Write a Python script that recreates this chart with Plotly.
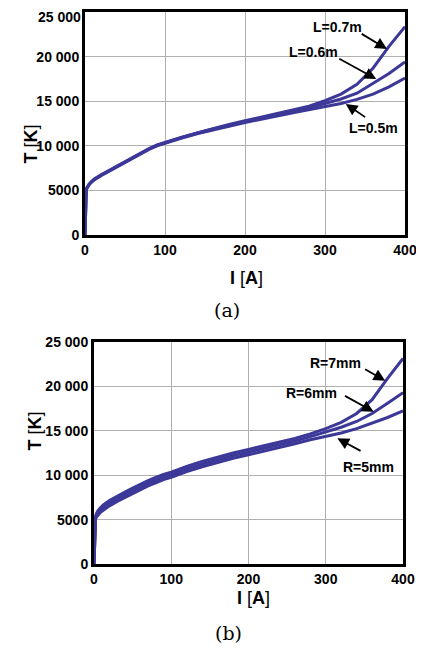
import plotly.graph_objects as go

# ---------------- data ----------------
current = [0, 0.5, 1, 1.5, 2, 3, 5, 8, 12, 20, 30, 40, 50, 60, 70, 80, 90, 100, 120, 140, 160,
           180, 200, 220, 240, 260, 280, 300, 320, 340, 360, 380, 400]

# (a) length variation
T_L05 = [0, 2450, 4250, 4900, 5150, 5350, 5600, 5900, 6200, 6650, 7150, 7650, 8100, 8600, 9150, 9600, 10000, 10300,
         10850, 11350, 11800, 12200, 12600, 13000, 13350, 13700, 14050, 14400, 14750, 15200, 15800, 16600, 17600]
T_L06 = [0, 2500, 4300, 4950, 5200, 5400, 5650, 5950, 6250, 6700, 7200, 7700, 8150, 8650, 9200, 9650, 10050, 10350,
         10900, 11400, 11900, 12300, 12700, 13100, 13450, 13850, 14300, 14750, 15250, 15900, 17000, 18100, 19400]
T_L07 = [0, 2550, 4350, 5000, 5250, 5450, 5700, 6000, 6300, 6750, 7250, 7750, 8200, 8700, 9250, 9700, 10100, 10400,
         10950, 11450, 11950, 12400, 12800, 13200, 13600, 14000, 14450, 15050, 15800, 16900, 18700, 21150, 23350]

# (b) radius variation
T_R5 = [0, 2400, 4150, 4750, 5050, 5250, 5500, 5800, 6050, 6550, 7050, 7500, 7950, 8400, 8800, 9150, 9500, 9750,
        10400, 10950, 11450, 11900, 12300, 12700, 13100, 13550, 14000, 14350, 14750, 15250, 15850, 16500, 17250]
T_R6 = [0, 2500, 4300, 4900, 5200, 5450, 5750, 6050, 6350, 6850, 7350, 7800, 8250, 8700, 9100, 9450, 9800, 10050,
        10700, 11250, 11750, 12200, 12600, 13000, 13400, 13850, 14350, 14850, 15400, 16050, 16950, 18100, 19300]
T_R7 = [0, 2600, 4450, 5050, 5350, 5650, 6000, 6300, 6650, 7150, 7650, 8100, 8550, 9000, 9400, 9750, 10100, 10350,
        11000, 11550, 12050, 12500, 12900, 13300, 13700, 14150, 14650, 15250, 15950, 16950, 18500, 20900, 23150]

x_ticks = [0, 100, 200, 300, 400]
y_ticks = [0, 5000, 10000, 15000, 20000, 25000]
y_tick_text = ["0", "5000", "10 000", "15 000", "20 000", "25 000"]

labels_a = ["L=0.7m", "L=0.6m", "L=0.5m"]
labels_b = ["R=7mm", "R=6mm", "R=5mm"]

# ---------------- figure ----------------
# the page body has an 8px margin, so the figure is drawn 8px smaller and
# all pixel positions below are given in window coordinates
OFF = 8
W, H = 424 - OFF, 661 - OFF
LINE = "rgb(60,56,152)"

fig = go.Figure()
for ys in (T_L05, T_L06, T_L07):
    fig.add_trace(go.Scatter(x=current, y=ys, mode="lines", line=dict(color=LINE, width=3),
                             xaxis="x", yaxis="y", showlegend=False))
for ys in (T_R5, T_R6, T_R7):
    fig.add_trace(go.Scatter(x=current, y=ys, mode="lines", line=dict(color=LINE, width=3),
                             xaxis="x2", yaxis="y2", showlegend=False))

tickfont = dict(family="Liberation Sans", size=14, color="black", weight="bold")
common_x = dict(range=[0, 400], tickvals=x_ticks, showgrid=True, gridcolor="#b0b0b0", gridwidth=1,
                showline=True, linecolor="black", linewidth=3, mirror=True, ticks="",
                tickfont=tickfont, zeroline=False, fixedrange=True, automargin=False,
                ticklabeloverflow="allow")
common_y = dict(range=[0, 25000], tickvals=y_ticks, showgrid=True,
                gridcolor="#b0b0b0", gridwidth=1, showline=True, linecolor="black", linewidth=3,
                mirror=True, ticks="", tickfont=tickfont, zeroline=False, fixedrange=True,
                automargin=False, ticklabeloverflow="allow")

def px(x):
    return (x - OFF) / W

def py(y):
    return 1 - (y - OFF) / H

# top panel: the highest tick label would stick out of the page, so it is
# written as an annotation pinned to the top edge instead
top_text = y_tick_text[:-1] + [""]

fig.update_layout(
    width=W, height=H, margin=dict(l=0, r=0, t=0, b=0, autoexpand=False),
    paper_bgcolor="white", plot_bgcolor="white",
    xaxis=dict(domain=[px(85), px(405)], anchor="y", **common_x),
    yaxis=dict(domain=[py(235), py(12)], anchor="x", ticktext=top_text, **common_y),
    xaxis2=dict(domain=[px(94), px(403)], anchor="y2", **common_x),
    yaxis2=dict(domain=[py(564), py(342)], anchor="x2", ticktext=y_tick_text, **common_y),
)

ann = []
ann.append(dict(text="<b>" + y_tick_text[-1] + "</b>", x=px(82), y=1, xref="paper", yref="paper",
                xanchor="right", yanchor="top", showarrow=False, borderpad=0,
                font=dict(family="Liberation Sans", size=14, color="black")))

title_font = dict(family="Liberation Sans", size=18, color="black")
# axis titles
ann.append(dict(text="<b>T</b> [<b>K</b>]", x=px(18), y=py(123), xref="paper", yref="paper",
                textangle=-90, showarrow=False, font=title_font))
ann.append(dict(text="<b>I</b> [<b>A</b>]", x=px(246), y=py(278), xref="paper", yref="paper",
                showarrow=False, font=title_font))
ann.append(dict(text="<b>T</b> [<b>K</b>]", x=px(22), y=py(453), xref="paper", yref="paper",
                textangle=-90, showarrow=False, font=title_font))
ann.append(dict(text="<b>I</b> [<b>A</b>]", x=px(253), y=py(610), xref="paper", yref="paper",
                showarrow=False, font=title_font))
# captions
cap_font = dict(family="DejaVu Serif", size=19, color="black")
ann.append(dict(text="(a)", x=px(227), y=py(310), xref="paper", yref="paper", showarrow=False, font=cap_font))
ann.append(dict(text="(b)", x=px(228), y=py(646), xref="paper", yref="paper", showarrow=False, font=cap_font))

lab_font = dict(family="Liberation Sans", size=14, color="black", weight="bold")
# (a) labels: (text x, text y, tail x, tail y, tip x, tip y)
geo_a = [(315, 23300, 344, 22650, 377.5, 20850),
         (285, 20500, 316, 19850, 364, 17500),
         (360, 12000, 352, 13100, 326, 14700)]
for lab, (tx, ty, ax_, ay_, hx, hy) in zip(labels_a, geo_a):
    ann.append(dict(text=lab, x=tx, y=ty, xref="x", yref="y", showarrow=False, font=lab_font))
    ann.append(dict(text="", x=hx, y=hy, ax=ax_, ay=ay_, xref="x", yref="y", axref="x", ayref="y",
                    showarrow=True, arrowhead=2, arrowsize=1.3, arrowwidth=1.8, arrowcolor="black"))
geo_b = [(312, 22600, 349, 22030, 377, 20640),
         (282, 19290, 323, 19030, 362, 17150),
         (355, 10960, 347, 12650, 315, 14150)]
for lab, (tx, ty, ax_, ay_, hx, hy) in zip(labels_b, geo_b):
    ann.append(dict(text=lab, x=tx, y=ty, xref="x2", yref="y2", showarrow=False, font=lab_font))
    ann.append(dict(text="", x=hx, y=hy, ax=ax_, ay=ay_, xref="x2", yref="y2", axref="x2", ayref="y2",
                    showarrow=True, arrowhead=2, arrowsize=1.3, arrowwidth=1.8, arrowcolor="black"))

fig.update_layout(annotations=ann)
fig.write_html("out.html")
